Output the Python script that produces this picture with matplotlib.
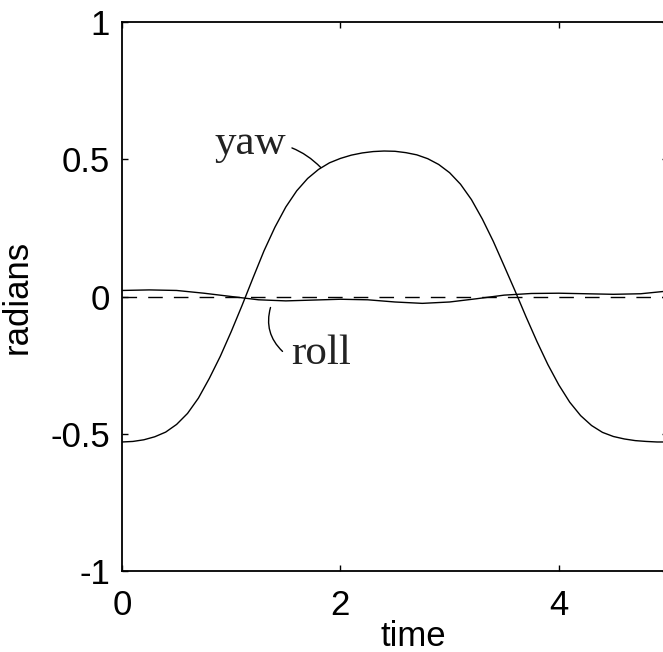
import numpy as np
import matplotlib
matplotlib.use("Agg")
import matplotlib.pyplot as plt

plt.rcParams['axes.unicode_minus'] = False
plt.rcParams['font.family'] = ['Liberation Sans', 'DejaVu Sans']

# yaw and roll responses (radians), sampled over one period
t_yaw = np.arange(0, 5.01, 0.1)
yaw = [-0.530, -0.528, -0.522, -0.511, -0.494, -0.466, -0.426, -0.370, -0.298, -0.218,
       -0.128, -0.032, 0.068, 0.166, 0.252, 0.326, 0.385, 0.430, 0.463, 0.487,
       0.503, 0.515, 0.523, 0.528, 0.530, 0.529, 0.524, 0.516, 0.502, 0.481,
       0.451, 0.409, 0.353, 0.282, 0.201, 0.111, 0.020, -0.074, -0.164, -0.248,
       -0.322, -0.385, -0.434, -0.470, -0.495, -0.510, -0.519, -0.525, -0.528, -0.530,
       -0.530]

t_roll = np.arange(0, 5.01, 0.25)
roll = [0.022, 0.024, 0.022, 0.012, 0.000, -0.012, -0.016, -0.013, -0.010, -0.012,
        -0.020, -0.025, -0.020, -0.008, 0.005, 0.011, 0.012, 0.010, 0.008, 0.010,
        0.020]

xticks = [0, 2, 4]
yticks = [-1, -0.5, 0, 0.5, 1]
yticklabels = ['-1', '-0.5', '0', '0.5', '1']

fig = plt.figure(figsize=(6.63, 6.52), dpi=100)
ax = fig.add_axes([122/663, 81/652, 546/663, 549/652])

ax.plot(t_yaw, yaw, color='black', linewidth=1.0)
ax.plot(t_roll, roll, color='black', linewidth=1.0)
ax.axhline(0, color='black', linewidth=1.0, linestyle=(0, (10.5, 8)))

ax.set_xlim(0, 5)
ax.set_ylim(-1, 1)
ax.set_xticks(xticks)
ax.set_xticklabels([str(v) for v in xticks])
ax.set_yticks(yticks)
ax.set_yticklabels(yticklabels)
ax.tick_params(direction='in', length=4, width=1.0, labelsize=25,
               top=True, right=True)
ax.tick_params(axis='x', pad=13)
ax.tick_params(axis='y', pad=8.5)
for s in ax.spines.values():
    s.set_linewidth(1.3)

ax.set_xlabel('time', fontsize=25)
ax.xaxis.set_label_coords(0.533, -0.089)
ax.set_ylabel('radians', fontsize=25)
ax.yaxis.set_label_coords(-0.161, 0.5)

serif = ['Liberation Serif', 'DejaVu Serif']
ax.annotate('yaw', xy=(1.82, 0.47), xytext=(0.85, 0.52), fontsize=31,
            family=serif, color='#222222', va='baseline', ha='left',
            arrowprops=dict(arrowstyle='-', color='black', lw=1.0,
                            shrinkA=2, shrinkB=0,
                            connectionstyle='arc3,rad=-0.25'))
# roll label with its leader line drawn separately
ax.annotate('', xy=(1.36, -0.04), xytext=(1.47, -0.20),
            arrowprops=dict(arrowstyle='-', color='black', lw=1.0,
                            shrinkA=0, shrinkB=0,
                            connectionstyle='arc3,rad=-0.3'))
ax.text(1.55, -0.245, 'roll', fontsize=31, family=serif, color='#222222',
        va='baseline', ha='left')

fig.savefig('out.png', dpi=100)
